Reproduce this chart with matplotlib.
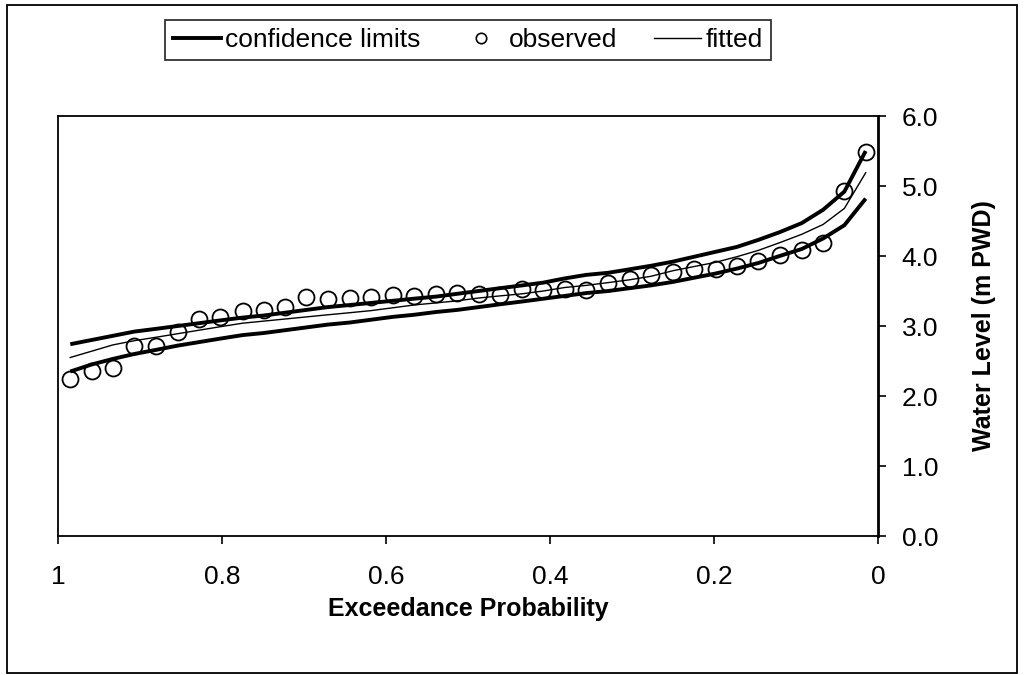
import numpy as np
import matplotlib.pyplot as plt
from matplotlib.patches import Rectangle
from matplotlib.lines import Line2D

plt.rcParams['font.family'] = ['Liberation Sans', 'DejaVu Sans']

# plotting positions (exceedance probability)
prob = [0.985, 0.959, 0.933, 0.907, 0.880, 0.854, 0.828, 0.802, 0.775, 0.749,
        0.723, 0.697, 0.671, 0.644, 0.618, 0.592, 0.566, 0.539, 0.513, 0.487,
        0.461, 0.434, 0.408, 0.382, 0.356, 0.329, 0.303, 0.277, 0.250, 0.224,
        0.198, 0.172, 0.146, 0.120, 0.093, 0.067, 0.041, 0.015]

observed = [2.25, 2.36, 2.40, 2.72, 2.72, 2.92, 3.10, 3.13, 3.22, 3.23,
            3.27, 3.42, 3.39, 3.40, 3.41, 3.45, 3.43, 3.46, 3.47, 3.46,
            3.45, 3.53, 3.52, 3.53, 3.52, 3.62, 3.67, 3.73, 3.77, 3.82,
            3.82, 3.86, 3.93, 4.01, 4.09, 4.18, 4.93, 5.49]

fitted = [2.55, 2.64, 2.73, 2.79, 2.84, 2.89, 2.94, 2.99, 3.04, 3.07,
          3.10, 3.13, 3.16, 3.19, 3.22, 3.26, 3.30, 3.33, 3.36, 3.40,
          3.43, 3.46, 3.50, 3.55, 3.58, 3.62, 3.66, 3.71, 3.79, 3.85,
          3.91, 3.99, 4.08, 4.19, 4.31, 4.45, 4.68, 5.19]

upper = [2.74, 2.80, 2.86, 2.92, 2.96, 3.00, 3.04, 3.08, 3.12, 3.15,
         3.19, 3.23, 3.27, 3.30, 3.33, 3.36, 3.39, 3.42, 3.46, 3.50,
         3.54, 3.58, 3.62, 3.68, 3.73, 3.76, 3.81, 3.86, 3.92, 3.99,
         4.06, 4.13, 4.23, 4.34, 4.47, 4.66, 4.92, 5.50]

lower = [2.35, 2.45, 2.53, 2.60, 2.66, 2.72, 2.77, 2.82, 2.87, 2.90,
         2.94, 2.98, 3.02, 3.05, 3.09, 3.13, 3.16, 3.20, 3.23, 3.27,
         3.31, 3.35, 3.39, 3.43, 3.47, 3.50, 3.54, 3.58, 3.63, 3.69,
         3.75, 3.82, 3.90, 4.00, 4.10, 4.25, 4.44, 4.82]

xticks = [1, 0.8, 0.6, 0.4, 0.2, 0]
xticklabels = ['1', '0.8', '0.6', '0.4', '0.2', '0']
yticks = [0, 1, 2, 3, 4, 5, 6]

fig = plt.figure(figsize=(10.24, 6.75), dpi=100)
ax = fig.add_axes([58/1024, 1 - 536/675, 820/1024, 420/675])

ax.plot(prob, upper, color='black', lw=2.8, solid_capstyle='butt')
ax.plot(prob, lower, color='black', lw=2.8, solid_capstyle='butt')
ax.plot(prob, fitted, color='black', lw=1.0)
ax.plot(prob, observed, linestyle='none', marker='o', markersize=11.5,
        markerfacecolor='none', markeredgecolor='black', markeredgewidth=1.3)

ax.set_xlim(1, 0)
ax.set_ylim(0, 6)
ax.set_xticks(xticks)
ax.set_xticklabels(xticklabels)
ax.set_yticks(yticks)
ax.set_yticklabels(['%.1f' % v for v in yticks])
ax.yaxis.tick_right()
ax.yaxis.set_label_position('right')
ax.tick_params(axis='both', direction='out', length=6, width=1.2,
               labelsize=19, color='black')
ax.tick_params(axis='x', pad=15)
ax.tick_params(axis='y', pad=11)
for s in ax.spines.values():
    s.set_linewidth(1.3)
ax.spines['right'].set_linewidth(2.0)

ax.set_xlabel('Exceedance Probability', fontsize=18, fontweight='bold')
ax.set_ylabel('Water Level (m PWD)', fontsize=18, fontweight='bold')
ax.xaxis.set_label_coords(0.5, -0.145)
ax.yaxis.set_label_coords(1.115, 0.5)

handles = [Line2D([], [], color='black', lw=2.8),
           Line2D([], [], linestyle='none', marker='o', markersize=7.5,
                  markerfacecolor='none', markeredgecolor='black', markeredgewidth=1.2),
           Line2D([], [], color='black', lw=1.0)]
leg = fig.legend(handles, ['confidence limits', 'observed', 'fitted'],
                 loc='center', bbox_to_anchor=(468/1024, 1 - 40/675), ncol=3,
                 fontsize=19, frameon=True, fancybox=False, handlelength=1.8,
                 handletextpad=0.15, columnspacing=1.4, borderpad=0.3)
leg.get_frame().set_edgecolor('black')
leg.get_frame().set_linewidth(1.3)

fig.patches.append(Rectangle((7/1024, 2/675), 1010/1024, 668/675,
                             transform=fig.transFigure, fill=False,
                             edgecolor='black', linewidth=1.3))

fig.savefig('out.png', dpi=100)
